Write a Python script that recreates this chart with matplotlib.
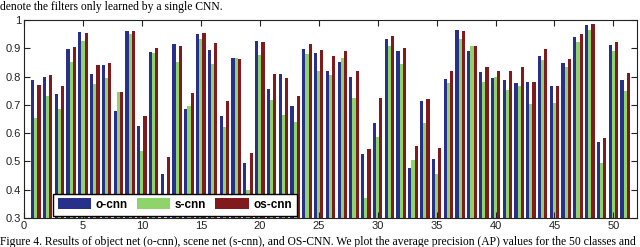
import numpy as np
import matplotlib
matplotlib.use("Agg")
import matplotlib.pyplot as plt

# AP per class (51 groups)
classes = np.arange(1, 52)
o_cnn = [0.788, 0.800, 0.738, 0.898, 0.959, 0.808, 0.841, 0.680, 0.962, 0.627,
         0.888, 0.456, 0.915, 0.685, 0.951, 0.894, 0.661, 0.865, 0.494, 0.926,
         0.755, 0.809, 0.696, 0.898, 0.882, 0.818, 0.851, 0.798, 0.526, 0.636,
         0.933, 0.891, 0.476, 0.714, 0.507, 0.791, 0.964, 0.891, 0.815, 0.796,
         0.787, 0.776, 0.780, 0.873, 0.765, 0.849, 0.939, 0.981, 0.568, 0.913,
         0.788]
s_cnn = [0.653, 0.730, 0.686, 0.850, 0.927, 0.774, 0.795, 0.744, 0.950, 0.538,
         0.884, 0.290, 0.853, 0.696, 0.932, 0.844, 0.622, 0.865, 0.400, 0.876,
         0.718, 0.665, 0.640, 0.879, 0.820, 0.806, 0.867, 0.724, 0.369, 0.588,
         0.908, 0.844, 0.506, 0.635, 0.456, 0.779, 0.933, 0.908, 0.780, 0.800,
         0.753, 0.767, 0.704, 0.859, 0.706, 0.835, 0.921, 0.966, 0.496, 0.891,
         0.749]
os_cnn = [0.771, 0.806, 0.767, 0.905, 0.954, 0.841, 0.849, 0.744, 0.962, 0.661,
          0.901, 0.514, 0.908, 0.741, 0.953, 0.920, 0.713, 0.861, 0.529, 0.921,
          0.809, 0.794, 0.733, 0.914, 0.894, 0.871, 0.891, 0.820, 0.544, 0.724,
          0.944, 0.902, 0.554, 0.721, 0.547, 0.820, 0.960, 0.908, 0.835, 0.820,
          0.818, 0.835, 0.780, 0.896, 0.768, 0.862, 0.951, 0.985, 0.582, 0.921,
          0.812]
series_names = ["o-cnn", "s-cnn", "os-cnn"]
colors = ["#28318a", "#8fd46a", "#801a1c"]

plt.rcParams['font.family'] = ['Liberation Sans', 'DejaVu Sans']

fig = plt.figure(figsize=(6.4, 2.47), dpi=100)
ax = fig.add_axes([24/640, 1 - 218/247, 613/640, 198/247])

w = 0.27
for i, (vals, name, c) in enumerate(zip([o_cnn, s_cnn, os_cnn], series_names, colors)):
    ax.bar(classes + (i - 1) * w, vals, width=w, color=c, label=name,
           edgecolor='none')

ax.set_xlim(0, 52)
ax.set_ylim(0.3, 1)
ax.set_xticks(np.arange(0, 51, 5))
ax.set_yticks(np.arange(0.3, 1.01, 0.1))
ax.set_yticklabels(["0.3", "0.4", "0.5", "0.6", "0.7", "0.8", "0.9", "1"])
ax.tick_params(direction='in', top=True, right=True, length=4, width=0.8,
               labelsize=8, colors='#222222', pad=2)
for s in ax.spines.values():
    s.set_linewidth(0.8)
    s.set_color('#222222')

leg = ax.legend(loc='lower left', bbox_to_anchor=(0.047, 0.012), ncol=3,
                borderaxespad=0, fancybox=False, edgecolor='black',
                framealpha=1, handlelength=2.8, handleheight=1.05,
                handletextpad=0.4, columnspacing=0.8, borderpad=0.4,
                prop={'size': 8.5, 'weight': 'bold'})
leg.get_frame().set_linewidth(1.0)

# paper caption fragments around the figure
fig.text(0.0, 1 - 10/247, "denote the filters only learned by a single CNN.",
         family='Liberation Serif', fontsize=8.4, va='baseline', ha='left')
fig.text(0.0, 1 - 245/247,
         "Figure 4. Results of object net (o-cnn), scene net (s-cnn), and OS-CNN. "
         "We plot the average precision (AP) values for the 50 classes and",
         family='Liberation Serif', fontsize=8.4, va='baseline', ha='left')

fig.savefig("out.png", dpi=100)
